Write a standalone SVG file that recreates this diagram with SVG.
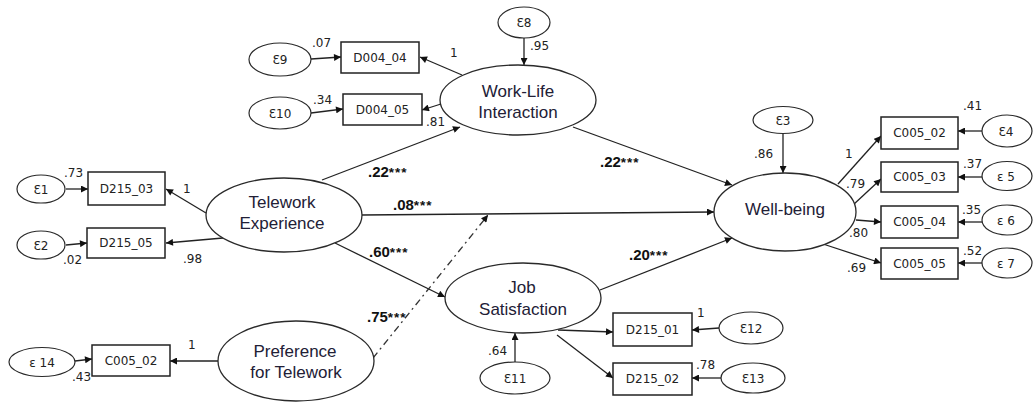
<svg xmlns="http://www.w3.org/2000/svg" width="1035" height="405" viewBox="0 0 1035 405">
<style>
.n{fill:#fff;stroke:#2a2a2a;stroke-width:1.3}
.bx rect{fill:#fff;stroke:#222;stroke-width:1.5}
.er{fill:#fff;stroke:#2a2a2a;stroke-width:1.2}
.c line{stroke:#222;stroke-width:1.3;marker-end:url(#ah)}
.c .dd{stroke-dasharray:7 4 2 4;stroke:#333}
.lb{font-family:"Liberation Sans",Arial,sans-serif;font-size:17px;fill:#222036;text-anchor:middle}
.bt{font-family:"DejaVu Sans",sans-serif;font-size:12px;fill:#222;text-anchor:middle;dominant-baseline:central}
.et{font-family:"DejaVu Sans",sans-serif;font-size:12px;fill:#222;text-anchor:middle;dominant-baseline:central}
.nm{font-family:"DejaVu Sans",sans-serif;font-size:12px;fill:#222}
.bd{font-family:"Liberation Sans",Arial,sans-serif;font-weight:bold;font-size:15px;fill:#111}
.st{font-size:13.5px;letter-spacing:1px}
</style>
<defs>
<marker id="ah" viewBox="0 0 10 10" refX="10" refY="5" markerWidth="8" markerHeight="7" markerUnits="userSpaceOnUse" orient="auto">
<path d="M0,0 L10,5 L0,10 z" fill="#111"/>
</marker>
</defs>
<g id="connectors" class="c">
<line x1="524" y1="38" x2="524" y2="65"/>
<line x1="311" y1="59" x2="341" y2="57"/>
<line x1="311" y1="113" x2="343" y2="109"/>
<line x1="462" y1="75" x2="420" y2="57"/>
<line x1="441" y1="104" x2="422" y2="110"/>
<line x1="66" y1="189" x2="88" y2="189"/>
<line x1="66" y1="245" x2="87" y2="243"/>
<line x1="206" y1="213" x2="166" y2="189"/>
<line x1="223" y1="238" x2="166" y2="243"/>
<line x1="322" y1="180" x2="460" y2="127"/>
<line x1="362" y1="215" x2="714" y2="212"/>
<line x1="335" y1="243" x2="445" y2="297"/>
<line class="dd" x1="373" y1="358" x2="488" y2="215"/>
<line x1="573" y1="127" x2="732" y2="185"/>
<line x1="600" y1="290" x2="732" y2="238"/>
<line x1="783" y1="134" x2="783" y2="173"/>
<line x1="838" y1="184" x2="881" y2="136"/>
<line x1="853" y1="205" x2="881" y2="179"/>
<line x1="856" y1="220" x2="881" y2="222"/>
<line x1="823" y1="244" x2="881" y2="263"/>
<line x1="982" y1="131" x2="958" y2="131"/>
<line x1="982" y1="177" x2="958" y2="177"/>
<line x1="982" y1="222" x2="958" y2="222"/>
<line x1="982" y1="263" x2="958" y2="263"/>
<line x1="558" y1="330" x2="613" y2="332"/>
<line x1="557" y1="335" x2="613" y2="378"/>
<line x1="719" y1="328" x2="692" y2="330"/>
<line x1="722" y1="378" x2="692" y2="378"/>
<line x1="515" y1="362" x2="515" y2="333"/>
<line x1="218" y1="361" x2="170" y2="361"/>
<line x1="75" y1="361" x2="92" y2="359"/>
</g>
<g id="work-life">
<ellipse class="n" cx="518" cy="100" rx="78" ry="35"/>
<text class="lb" x="518" y="97">Work-Life</text>
<text class="lb" x="518" y="118">Interaction</text>
</g>
<g id="telework">
<ellipse class="n" cx="284" cy="215" rx="78" ry="37"/>
<text class="lb" x="282" y="208">Telework</text>
<text class="lb" x="282" y="229">Experience</text>
</g>
<g id="well-being">
<ellipse class="n" cx="785" cy="212" rx="71" ry="39"/>
<text class="lb" x="785" y="215">Well-being</text>
</g>
<g id="job">
<ellipse class="n" cx="523" cy="298" rx="78" ry="35"/>
<text class="lb" x="522" y="293">Job</text>
<text class="lb" x="523" y="315">Satisfaction</text>
</g>
<g id="preference">
<ellipse class="n" cx="296" cy="361" rx="78" ry="40"/>
<text class="lb" x="295" y="357">Preference</text>
<text class="lb" x="296" y="378">for Telework</text>
</g>
<g id="D004_04" class="bx"><rect x="341" y="42" width="78" height="31"/><text class="bt" x="380" y="57.5">D004_04</text></g>
<g id="D004_05" class="bx"><rect x="343" y="94" width="79" height="31"/><text class="bt" x="382.5" y="109.5">D004_05</text></g>
<g id="D215_03" class="bx"><rect x="88" y="172" width="77" height="33"/><text class="bt" x="126.5" y="188.5">D215_03</text></g>
<g id="D215_05" class="bx"><rect x="87" y="228" width="78" height="30"/><text class="bt" x="126" y="243">D215_05</text></g>
<g id="C005_02r" class="bx"><rect x="881" y="117" width="77" height="32"/><text class="bt" x="919.5" y="133">C005_02</text></g>
<g id="C005_03" class="bx"><rect x="881" y="162" width="77" height="30"/><text class="bt" x="919.5" y="177">C005_03</text></g>
<g id="C005_04" class="bx"><rect x="881" y="206" width="77" height="32"/><text class="bt" x="919.5" y="222">C005_04</text></g>
<g id="C005_05" class="bx"><rect x="881" y="248" width="77" height="31"/><text class="bt" x="919.5" y="263.5">C005_05</text></g>
<g id="D215_01" class="bx"><rect x="613" y="313" width="79" height="33"/><text class="bt" x="652.5" y="329.5">D215_01</text></g>
<g id="D215_02" class="bx"><rect x="613" y="363" width="79" height="32"/><text class="bt" x="652.5" y="379">D215_02</text></g>
<g id="C005_02l" class="bx"><rect x="92" y="345" width="78" height="31"/><text class="bt" x="131" y="360.5">C005_02</text></g>
<g id="E8"><ellipse class="er" cx="524" cy="22.5" rx="26" ry="15.5"/><text class="et" x="524" y="23">Ɛ8</text></g>
<g id="E9"><ellipse class="er" cx="280" cy="59.5" rx="31" ry="16.5"/><text class="et" x="280" y="60">Ɛ9</text></g>
<g id="E10"><ellipse class="er" cx="280" cy="113" rx="31" ry="16"/><text class="et" x="280" y="113.5">Ɛ10</text></g>
<g id="E1"><ellipse class="er" cx="41" cy="189" rx="24" ry="14"/><text class="et" x="41" y="189.5">Ɛ1</text></g>
<g id="E2"><ellipse class="er" cx="41" cy="245" rx="24" ry="14"/><text class="et" x="41" y="245.5">Ɛ2</text></g>
<g id="E3"><ellipse class="er" cx="783" cy="120" rx="30" ry="13.5"/><text class="et" x="783" y="120.5">Ɛ3</text></g>
<g id="E4"><ellipse class="er" cx="1007" cy="131" rx="25" ry="16"/><text class="et" x="1006" y="131.5">Ɛ4</text></g>
<g id="E5"><ellipse class="er" cx="1007" cy="176" rx="25" ry="14.5"/><text class="et" x="1006" y="176.5">ε 5</text></g>
<g id="E6"><ellipse class="er" cx="1007" cy="220" rx="25" ry="15"/><text class="et" x="1006" y="220.5">ε 6</text></g>
<g id="E7"><ellipse class="er" cx="1007" cy="263" rx="25" ry="15"/><text class="et" x="1006" y="263.5">ε 7</text></g>
<g id="E12"><ellipse class="er" cx="751" cy="328" rx="32" ry="16"/><text class="et" x="751" y="328.5">Ɛ12</text></g>
<g id="E13"><ellipse class="er" cx="753" cy="378" rx="32" ry="15"/><text class="et" x="753" y="378.5">Ɛ13</text></g>
<g id="E11"><ellipse class="er" cx="515" cy="378" rx="35" ry="16"/><text class="et" x="515" y="378.5">Ɛ11</text></g>
<g id="E14"><ellipse class="er" cx="42" cy="362" rx="33" ry="14.5"/><text class="et" x="42" y="362.5">ε 14</text></g>
<g id="labels">
<text class="nm" x="312" y="47">.07</text>
<text class="nm" x="313" y="104">.34</text>
<text class="nm" x="450" y="57">1</text>
<text class="nm" x="426" y="126">.81</text>
<text class="nm" x="530" y="50">.95</text>
<text class="nm" x="64" y="177">.73</text>
<text class="nm" x="63" y="264">.02</text>
<text class="nm" x="183" y="193">1</text>
<text class="nm" x="183" y="263">.98</text>
<text class="nm" x="754" y="158">.86</text>
<text class="nm" x="963" y="110">.41</text>
<text class="nm" x="845" y="158">1</text>
<text class="nm" x="963" y="168">.37</text>
<text class="nm" x="846" y="188">.79</text>
<text class="nm" x="962" y="214">.35</text>
<text class="nm" x="849" y="237">.80</text>
<text class="nm" x="963" y="255">.52</text>
<text class="nm" x="847" y="272">.69</text>
<text class="nm" x="697" y="317">1</text>
<text class="nm" x="696" y="369">.78</text>
<text class="nm" x="488" y="355">.64</text>
<text class="nm" x="188" y="349">1</text>
<text class="nm" x="72" y="381">.43</text>
<text class="bd" x="368" y="177">.22<tspan class="st">***</tspan></text>
<text class="bd" x="393" y="210">.08<tspan class="st">***</tspan></text>
<text class="bd" x="369" y="257">.60<tspan class="st">***</tspan></text>
<text class="bd" x="367" y="322">.75<tspan class="st">***</tspan></text>
<text class="bd" x="600" y="167">.22<tspan class="st">***</tspan></text>
<text class="bd" x="629" y="260">.20<tspan class="st">***</tspan></text>
</g>
</svg>
